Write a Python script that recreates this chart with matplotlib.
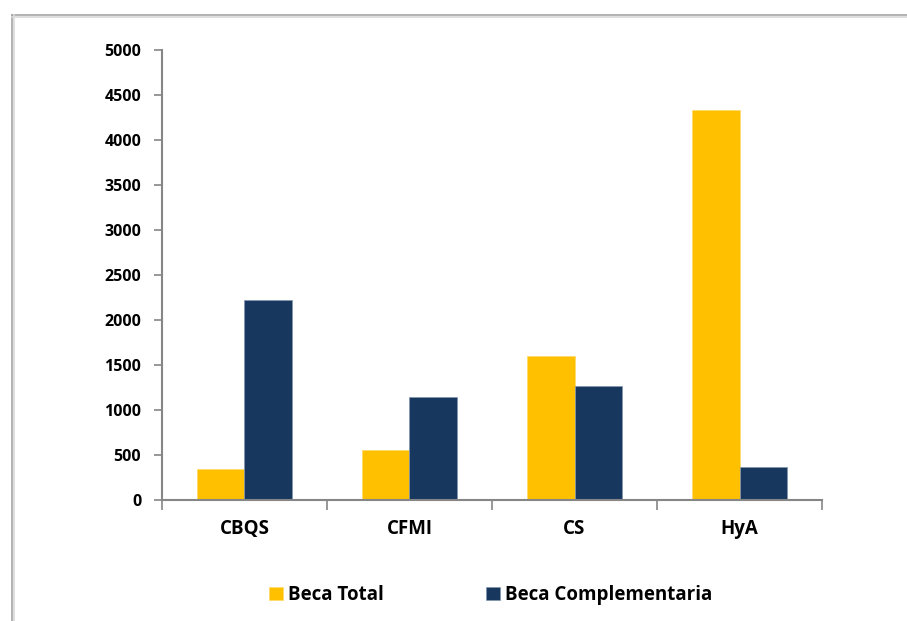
import matplotlib
matplotlib.use('Agg')
import matplotlib.pyplot as plt
import numpy as np
from matplotlib.lines import Line2D

categories = ['CBQS', 'CFMI', 'CS', 'HyA']
beca_total = [350, 555, 1600, 4330]
beca_complementaria = [2220, 1140, 1265, 365]

plt.rcParams['font.family'] = ['Open Sans', 'DejaVu Sans']
plt.rcParams['font.weight'] = 'bold'

fig = plt.figure(figsize=(9.07, 6.21), dpi=100)
ax = fig.add_axes([0.1786, 0.1948, 0.7277, 0.7247])

# marco del gráfico (borde gris con sombra)
for off, col in [(0, '#a6a6a6'), (1.5, '#d9d9d9')]:
    fig.add_artist(Line2D([12 / 907, 1], [1 - (15 + off) / 621] * 2,
                          color=col, lw=1.2, transform=fig.transFigure))
    fig.add_artist(Line2D([(12 + off) / 907] * 2, [0, 1 - 15 / 621],
                          color=col, lw=1.2, transform=fig.transFigure))

x = np.arange(len(categories))
w = 0.285
ax.bar(x - w / 2, beca_total, w, color='#ffc000', edgecolor='#ffd966',
       linewidth=0.5, label='Beca Total')
ax.bar(x + w / 2, beca_complementaria, w, color='#17375e', edgecolor='#8497b0',
       linewidth=0.5, label='Beca Complementaria')

ax.set_xlim(-0.5, len(categories) - 0.5)
ax.set_ylim(0, 5000)
ax.set_yticks(range(0, 5001, 500))
ax.set_xticks(x)
ax.set_xticklabels(categories, fontsize=13.5, fontweight='bold')
ax.set_xticks(np.arange(-0.5, len(categories)), minor=True)
ax.tick_params(axis='x', which='major', length=0, pad=14)
ax.tick_params(axis='x', which='minor', length=7, width=1.2, color='#868686')
ax.tick_params(axis='y', length=6, width=1.2, color='#868686', pad=9,
               labelsize=11.5)
for lab in ax.get_yticklabels():
    lab.set_fontweight('bold')

for s in ['top', 'right']:
    ax.spines[s].set_visible(False)
for s in ['left', 'bottom']:
    ax.spines[s].set_color('#868686')
    ax.spines[s].set_linewidth(1.5)

leg = fig.legend(loc='center', bbox_to_anchor=(0.541, 1 - 595 / 621), ncol=2,
                 frameon=False, prop={'size': 13.5, 'weight': 'bold'},
                 handlelength=0.75, handleheight=0.75, handletextpad=0.3,
                 columnspacing=5.4)

fig.savefig('out.png', dpi=100)
